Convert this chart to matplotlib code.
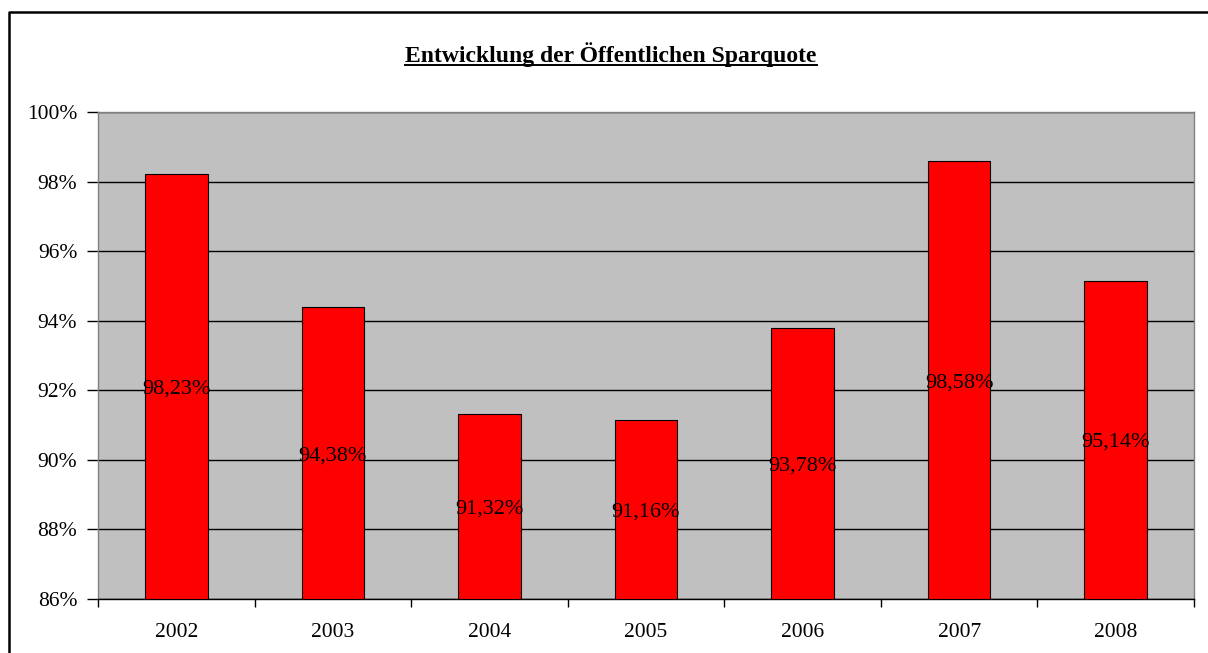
import matplotlib
matplotlib.use("Agg")
import matplotlib.pyplot as plt
from matplotlib.lines import Line2D
from matplotlib.ticker import MultipleLocator, FuncFormatter

years = ["2002", "2003", "2004", "2005", "2006", "2007", "2008"]
values = [98.23, 94.38, 91.32, 91.16, 93.78, 98.58, 95.14]
title = "Entwicklung der Öffentlichen Sparquote"

plt.rcParams['font.family'] = ['Liberation Serif', 'DejaVu Serif']

W, H = 1208, 653
fig = plt.figure(figsize=(W / 100, H / 100), dpi=100)
fig.patch.set_facecolor('white')

ax = fig.add_axes([98 / W, 1 - 599 / H, (1194 - 98) / W, (599 - 112) / H])
ax.set_facecolor('#C0C0C0')

ymin = 86
x = list(range(len(years)))
heights = [v - ymin for v in values]
ax.bar(x, heights, bottom=ymin, width=0.4, color='#FF0000', edgecolor='black',
       linewidth=0.8, zorder=3)

ax.set_ylim(86, 100)
ax.set_xlim(-0.5, len(years) - 0.5)
ax.yaxis.set_major_locator(MultipleLocator(2))
ax.yaxis.set_major_formatter(FuncFormatter(lambda v, p: f"{int(round(v))}%"))
ax.grid(axis='y', color='black', linewidth=1.0, zorder=1)
ax.set_axisbelow(True)

ax.set_xticks(x)
ax.set_xticklabels(years, fontsize=15.5)
ax.tick_params(axis='x', length=0, pad=17)
# boundary ticks
ax.set_xticks([i - 0.5 for i in range(len(years) + 1)], minor=True)
ax.tick_params(axis='x', which='minor', length=6, width=1, color='black', direction='out')
ax.tick_params(axis='y', length=8, width=1, color='black', labelsize=15.5, pad=7)

for s in ['top', 'right']:
    ax.spines[s].set_color('#808080')
    ax.spines[s].set_linewidth(1)
ax.spines['left'].set_color('#808080')
ax.spines['left'].set_linewidth(1)
ax.spines['bottom'].set_color('black')
ax.spines['bottom'].set_linewidth(1)

for xi, v in zip(x, values):
    ax.text(xi, (ymin + v) / 2, f"{v:.2f}%".replace('.', ','), ha='center',
            va='center_baseline', fontsize=16, color='black', zorder=4)

t = fig.text(611 / W, 1 - 55 / H, title, ha='center', va='center', fontsize=17,
             fontweight='bold')
fig.canvas.draw()
bb = t.get_window_extent(fig.canvas.get_renderer())
uy = bb.y0 + 2
fig.add_artist(Line2D([bb.x0 / W, bb.x1 / W], [uy / H, uy / H], color='black', linewidth=1.4,
                      transform=fig.transFigure))

# outer chart frame (left and top edges visible)
fig.add_artist(Line2D([9 / W, 9 / W, 1.0], [0.0, 1 - 12 / H, 1 - 12 / H], color='black',
                      linewidth=1.8, transform=fig.transFigure))

fig.savefig("out.png", dpi=100)
